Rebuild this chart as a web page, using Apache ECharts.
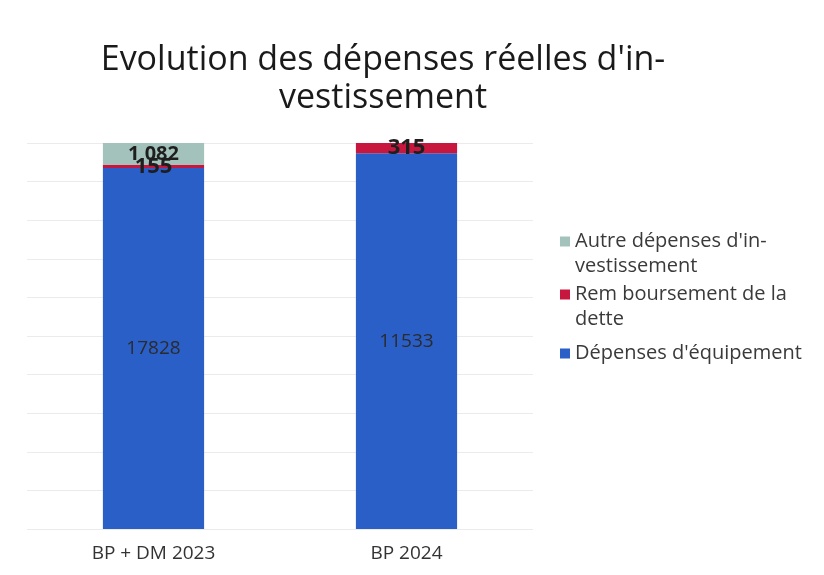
<!DOCTYPE html>
<html>
<head>
<meta charset="utf-8">
<script src="https://cdn.jsdelivr.net/npm/echarts@6/dist/echarts.min.js"></script>
<style>
  html, body { margin: 0; padding: 0; background: #fff; }
  #chart { width: 824px; height: 575px; }
</style>
</head>
<body>
<div id="chart"></div>
<script>
// data
var categories = ['BP + DM 2023', 'BP 2024']
var equipement = [17828, 11533]
var remboursement = [155, 315]
var autres = [1082, 0]

var seriesNames = ["Dépenses d'équipement", 'Remboursement de la dette', "Autre dépenses d'investissement"]
// leading blank line keeps the icon level with the first line of wrapped names
var legendText = {
    "Autre dépenses d'investissement": "\nAutre dépenses d'in-\nvestissement",
    'Remboursement de la dette': '\nRem boursement de la\ndette',
    "Dépenses d'équipement": "Dépenses d'équipement"
}

var font = '"Open Sans", Lato, sans-serif'

// 100% stacked : each segment is its share of the column total
var totals = categories.map(function (c, i) {
    return equipement[i] + remboursement[i] + autres[i]
})
function share(arr) {
    return arr.map(function (v, i) {
        return { value: v / totals[i] * 100, raw: v }
    })
}

function rawLabel(spaced) {
    return function (p) {
        var v = p.data.raw
        if (!v) return ''
        var s = String(v)
        if (spaced) s = s.replace(/\B(?=(\d{3})+(?!\d))/g, ' ')
        return s
    }
}

function makeLegend(name, top) {
    return {
        orient: 'vertical',
        left: 555,
        top: top,
        itemWidth: 10,
        itemHeight: 10,
        icon: 'rect',
        selectedMode: false,
        data: [name],
        formatter: function (n) { return legendText[n] },
        textStyle: { fontFamily: font, fontSize: 20, lineHeight: 25, color: '#3a3a3a' }
    }
}

var myChart = echarts.init(document.getElementById('chart'))
var option = {
    backgroundColor: '#fff',
    animation: false,
    title: {
        text: "Evolution des dépenses réelles d'in-\nvestissement",
        left: 378,
        top: 36,
        textAlign: 'center',
        textStyle: { fontFamily: font, fontSize: 34, fontWeight: 'normal', lineHeight: 38, color: '#1a1a1a' }
    },
    legend: [
        makeLegend(seriesNames[2], 199),
        makeLegend(seriesNames[1], 252),
        makeLegend(seriesNames[0], 336)
    ],
    grid: { left: 27, right: 291, top: 143, bottom: 46 },
    xAxis: {
        type: 'category',
        data: categories,
        axisLine: { show: false },
        axisTick: { show: false },
        axisLabel: { fontFamily: font, fontSize: 19, color: '#333', margin: 15 }
    },
    yAxis: {
        type: 'value',
        min: 0,
        max: 100,
        interval: 10,
        axisLabel: { show: false },
        axisLine: { show: false },
        axisTick: { show: false },
        splitLine: { lineStyle: { color: '#ebebeb', width: 1 } }
    },
    series: [
        {
            name: seriesNames[0],
            type: 'bar',
            stack: 'total',
            barWidth: '40%',
            itemStyle: { color: '#2b5fc8' },
            label: {
                show: true, position: 'inside', formatter: rawLabel(false),
                fontFamily: font, fontSize: 19, color: '#2b2b2b'
            },
            data: share(equipement)
        },
        {
            name: seriesNames[1],
            type: 'bar',
            stack: 'total',
            itemStyle: { color: '#c8173f' },
            label: {
                show: true, position: 'inside', formatter: rawLabel(false),
                fontFamily: font, fontSize: 22, fontWeight: 'bold', color: '#1e1e1e'
            },
            data: share(remboursement)
        },
        {
            name: seriesNames[2],
            type: 'bar',
            stack: 'total',
            itemStyle: { color: '#a3c2bb' },
            label: {
                show: true, position: 'inside', formatter: rawLabel(true),
                fontFamily: font, fontSize: 20, fontWeight: 'bold', color: '#1e1e1e'
            },
            data: share(autres)
        }
    ]
}
myChart.setOption(option)
</script>
</body>
</html>
